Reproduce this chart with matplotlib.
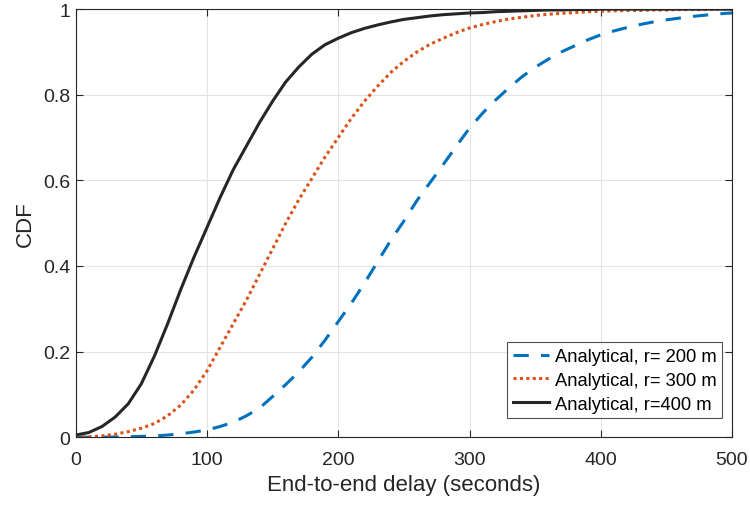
import matplotlib
matplotlib.use('Agg')
import matplotlib.pyplot as plt

# delay values (seconds), one reading every 10 s
delay = list(range(0, 510, 10))

cdf_r200 = [0.0, 0.0, 0.0, 0.0005, 0.001, 0.002, 0.003, 0.005, 0.008, 0.012,
            0.017, 0.025, 0.035, 0.05, 0.068, 0.095, 0.123, 0.153, 0.187, 0.227,
            0.27, 0.313, 0.36, 0.41, 0.46, 0.505, 0.553, 0.595, 0.637, 0.68,
            0.722, 0.757, 0.788, 0.816, 0.842, 0.864, 0.883, 0.9, 0.914, 0.928,
            0.94, 0.949, 0.957, 0.964, 0.97, 0.975, 0.979, 0.983, 0.986, 0.989,
            0.991]
cdf_r300 = [0.0, 0.001, 0.003, 0.007, 0.013, 0.021, 0.032, 0.05, 0.075, 0.11,
            0.155, 0.21, 0.265, 0.32, 0.38, 0.44, 0.5, 0.555, 0.605, 0.655,
            0.70, 0.745, 0.785, 0.82, 0.852, 0.878, 0.9, 0.918, 0.932, 0.945,
            0.956, 0.964, 0.971, 0.977, 0.981, 0.985, 0.988, 0.99, 0.992, 0.994,
            0.995, 0.996, 0.997, 0.997, 0.998, 0.998, 0.999, 0.999, 0.999, 1.0,
            1.0]
cdf_r400 = [0.005, 0.011, 0.025, 0.047, 0.078, 0.125, 0.19, 0.265, 0.345, 0.42,
            0.49, 0.56, 0.625, 0.68, 0.735, 0.785, 0.83, 0.865, 0.895, 0.917,
            0.932, 0.945, 0.955, 0.963, 0.97, 0.976, 0.98, 0.984, 0.987, 0.989,
            0.991, 0.992, 0.994, 0.995, 0.996, 0.997, 0.998, 0.998, 0.999, 0.999,
            1.0, 1.0, 1.0, 1.0, 1.0, 1.0, 1.0, 1.0, 1.0, 1.0,
            1.0]

labels = ['Analytical, r= 200 m', 'Analytical, r= 300 m', 'Analytical, r=400 m']

plt.rcParams['font.family'] = ['Liberation Sans', 'DejaVu Sans']

fig = plt.figure(figsize=(7.5, 5.06), dpi=100)
ax = fig.add_axes([0.101, 0.134, 0.875, 0.846])

ax.plot(delay, cdf_r200, color='#0072BD', linewidth=2.2, linestyle=(0, (5, 4)), label=labels[0])
ax.plot(delay, cdf_r300, color='#D95319', linewidth=2.2, linestyle=(0, (1, 1.1)), label=labels[1])
ax.plot(delay, cdf_r400, color='#262626', linewidth=2.2, linestyle='-', label=labels[2])

ax.set_xlim(0, 500)
ax.set_ylim(0, 1)
ax.set_xticks([0, 100, 200, 300, 400, 500])
ax.set_yticks([0, 0.2, 0.4, 0.6, 0.8, 1])
ax.set_yticklabels(['0', '0.2', '0.4', '0.6', '0.8', '1'])
ax.grid(True, color='#E3E3E3', linewidth=0.8)
ax.set_axisbelow(True)
ax.tick_params(direction='in', top=True, right=True, labelsize=14,
               colors='#262626', length=5, width=0.8)
ax.tick_params(axis='x', pad=10)
ax.tick_params(axis='y', pad=4)
for s in ax.spines.values():
    s.set_color('#262626')
    s.set_linewidth(0.8)

ax.set_xlabel('End-to-end delay (seconds)', fontsize=16, color='#262626', labelpad=4)
ax.set_ylabel('CDF', fontsize=16, color='#262626', labelpad=5)

leg = ax.legend(loc='lower right', bbox_to_anchor=(0.985, 0.044), fontsize=13.2,
                frameon=True, fancybox=False, handlelength=2.0, handletextpad=0.3,
                borderpad=0.3, labelspacing=0.38, borderaxespad=0)
leg.get_frame().set_edgecolor('#262626')
leg.get_frame().set_linewidth(0.8)

fig.savefig('out.png', dpi=100)
